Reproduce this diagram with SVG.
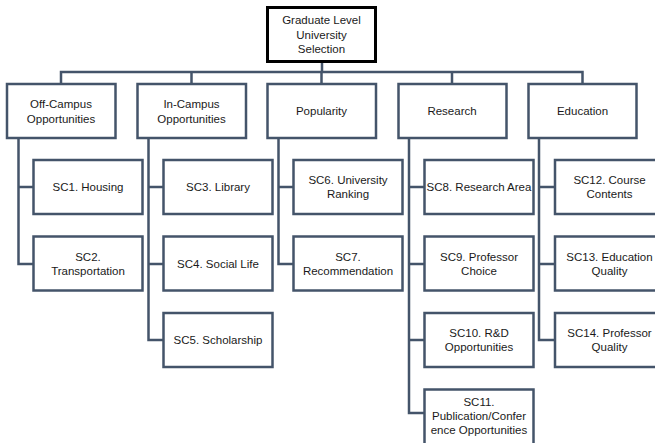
<svg xmlns="http://www.w3.org/2000/svg" width="655" height="443" viewBox="0 0 655 443">
  <style>
    .box { fill: #ffffff; stroke: #44546a; stroke-width: 2.5; }
    .root { fill: #ffffff; stroke: #000000; stroke-width: 3; }
    .wire { fill: none; stroke: #44546a; stroke-width: 2.5; }
    text { font-family: "Liberation Sans", Arial, sans-serif; font-size: 11.5px; fill: #1a1a1a; text-anchor: middle; }
  </style>
  <rect width="655" height="443" fill="#ffffff"/>

  <!-- connectors -->
  <g id="connectors" class="wire">
    <!-- root to bus -->
    <path d="M322 62 V72 M61 84 V72 H582.5 V84 M191.5 72 V84 M321.5 72 V84 M452 72 V84"/>
    <!-- Off-Campus -->
    <path d="M18.5 138 V264 H33 M18.5 187 H33"/>
    <!-- In-Campus -->
    <path d="M148.5 138 V340 H163 M148.5 187 H163 M148.5 264 H163"/>
    <!-- Popularity -->
    <path d="M278.5 138 V264 H293 M278.5 187 H293"/>
    <!-- Research -->
    <path d="M409 138 V413 H424 M409 187 H424 M409 264 H424 M409 340 H424"/>
    <!-- Education -->
    <path d="M539 138 V340 H555 M539 187 H555 M539 264 H555"/>
  </g>

  <!-- root -->
  <g id="root">
    <rect class="root" x="267.5" y="7.5" width="108" height="54"/>
    <text x="321.5" y="24">Graduate Level</text>
    <text x="321.5" y="38.5">University</text>
    <text x="321.5" y="53">Selection</text>
  </g>

  <!-- criteria -->
  <g id="off-campus">
    <rect class="box" x="7" y="84" width="108.5" height="54"/>
    <text x="61" y="108">Off-Campus</text>
    <text x="61" y="122.5">Opportunities</text>
  </g>
  <g id="in-campus">
    <rect class="box" x="137.5" y="84" width="108.5" height="54"/>
    <text x="191.5" y="108">In-Campus</text>
    <text x="191.5" y="122.5">Opportunities</text>
  </g>
  <g id="popularity">
    <rect class="box" x="267.5" y="84" width="108.5" height="54"/>
    <text x="321.5" y="115">Popularity</text>
  </g>
  <g id="research">
    <rect class="box" x="398.5" y="84" width="108" height="54"/>
    <text x="452" y="115">Research</text>
  </g>
  <g id="education">
    <rect class="box" x="528.5" y="84" width="108" height="54"/>
    <text x="582.5" y="115">Education</text>
  </g>

  <!-- sub-criteria -->
  <g id="sc1">
    <rect class="box" x="33.5" y="160" width="109" height="54"/>
    <text x="88" y="191">SC1. Housing</text>
  </g>
  <g id="sc2">
    <rect class="box" x="33.5" y="236.5" width="109" height="54"/>
    <text x="88" y="260.5">SC2.</text>
    <text x="88" y="274.5">Transportation</text>
  </g>
  <g id="sc3">
    <rect class="box" x="163.5" y="160" width="109" height="54"/>
    <text x="218" y="191">SC3. Library</text>
  </g>
  <g id="sc4">
    <rect class="box" x="163.5" y="236.5" width="109" height="54"/>
    <text x="218" y="267.5">SC4. Social Life</text>
  </g>
  <g id="sc5">
    <rect class="box" x="163.5" y="313" width="109" height="54"/>
    <text x="218" y="344">SC5. Scholarship</text>
  </g>
  <g id="sc6">
    <rect class="box" x="293.5" y="160" width="109" height="54"/>
    <text x="348" y="184">SC6. University</text>
    <text x="348" y="198">Ranking</text>
  </g>
  <g id="sc7">
    <rect class="box" x="293.5" y="236.5" width="109" height="54"/>
    <text x="348" y="260.5">SC7.</text>
    <text x="348" y="274.5">Recommendation</text>
  </g>
  <g id="sc8">
    <rect class="box" x="424.5" y="160" width="109" height="54"/>
    <text x="479" y="191">SC8. Research Area</text>
  </g>
  <g id="sc9">
    <rect class="box" x="424.5" y="236.5" width="109" height="54"/>
    <text x="479" y="260.5">SC9. Professor</text>
    <text x="479" y="274.5">Choice</text>
  </g>
  <g id="sc10">
    <rect class="box" x="424.5" y="313" width="109" height="54"/>
    <text x="479" y="337">SC10. R&amp;D</text>
    <text x="479" y="351">Opportunities</text>
  </g>
  <g id="sc11">
    <rect class="box" x="424.5" y="389.5" width="109" height="60"/>
    <text x="479" y="406">SC11.</text>
    <text x="479" y="420">Publication/Confer</text>
    <text x="479" y="434">ence Opportunities</text>
  </g>
  <g id="sc12">
    <rect class="box" x="555" y="160" width="109" height="54"/>
    <text x="609.5" y="184">SC12. Course</text>
    <text x="609.5" y="198">Contents</text>
  </g>
  <g id="sc13">
    <rect class="box" x="555" y="236.5" width="109" height="54"/>
    <text x="609.5" y="260.5">SC13. Education</text>
    <text x="609.5" y="274.5">Quality</text>
  </g>
  <g id="sc14">
    <rect class="box" x="555" y="313" width="109" height="54"/>
    <text x="609.5" y="337">SC14. Professor</text>
    <text x="609.5" y="351">Quality</text>
  </g>
</svg>
